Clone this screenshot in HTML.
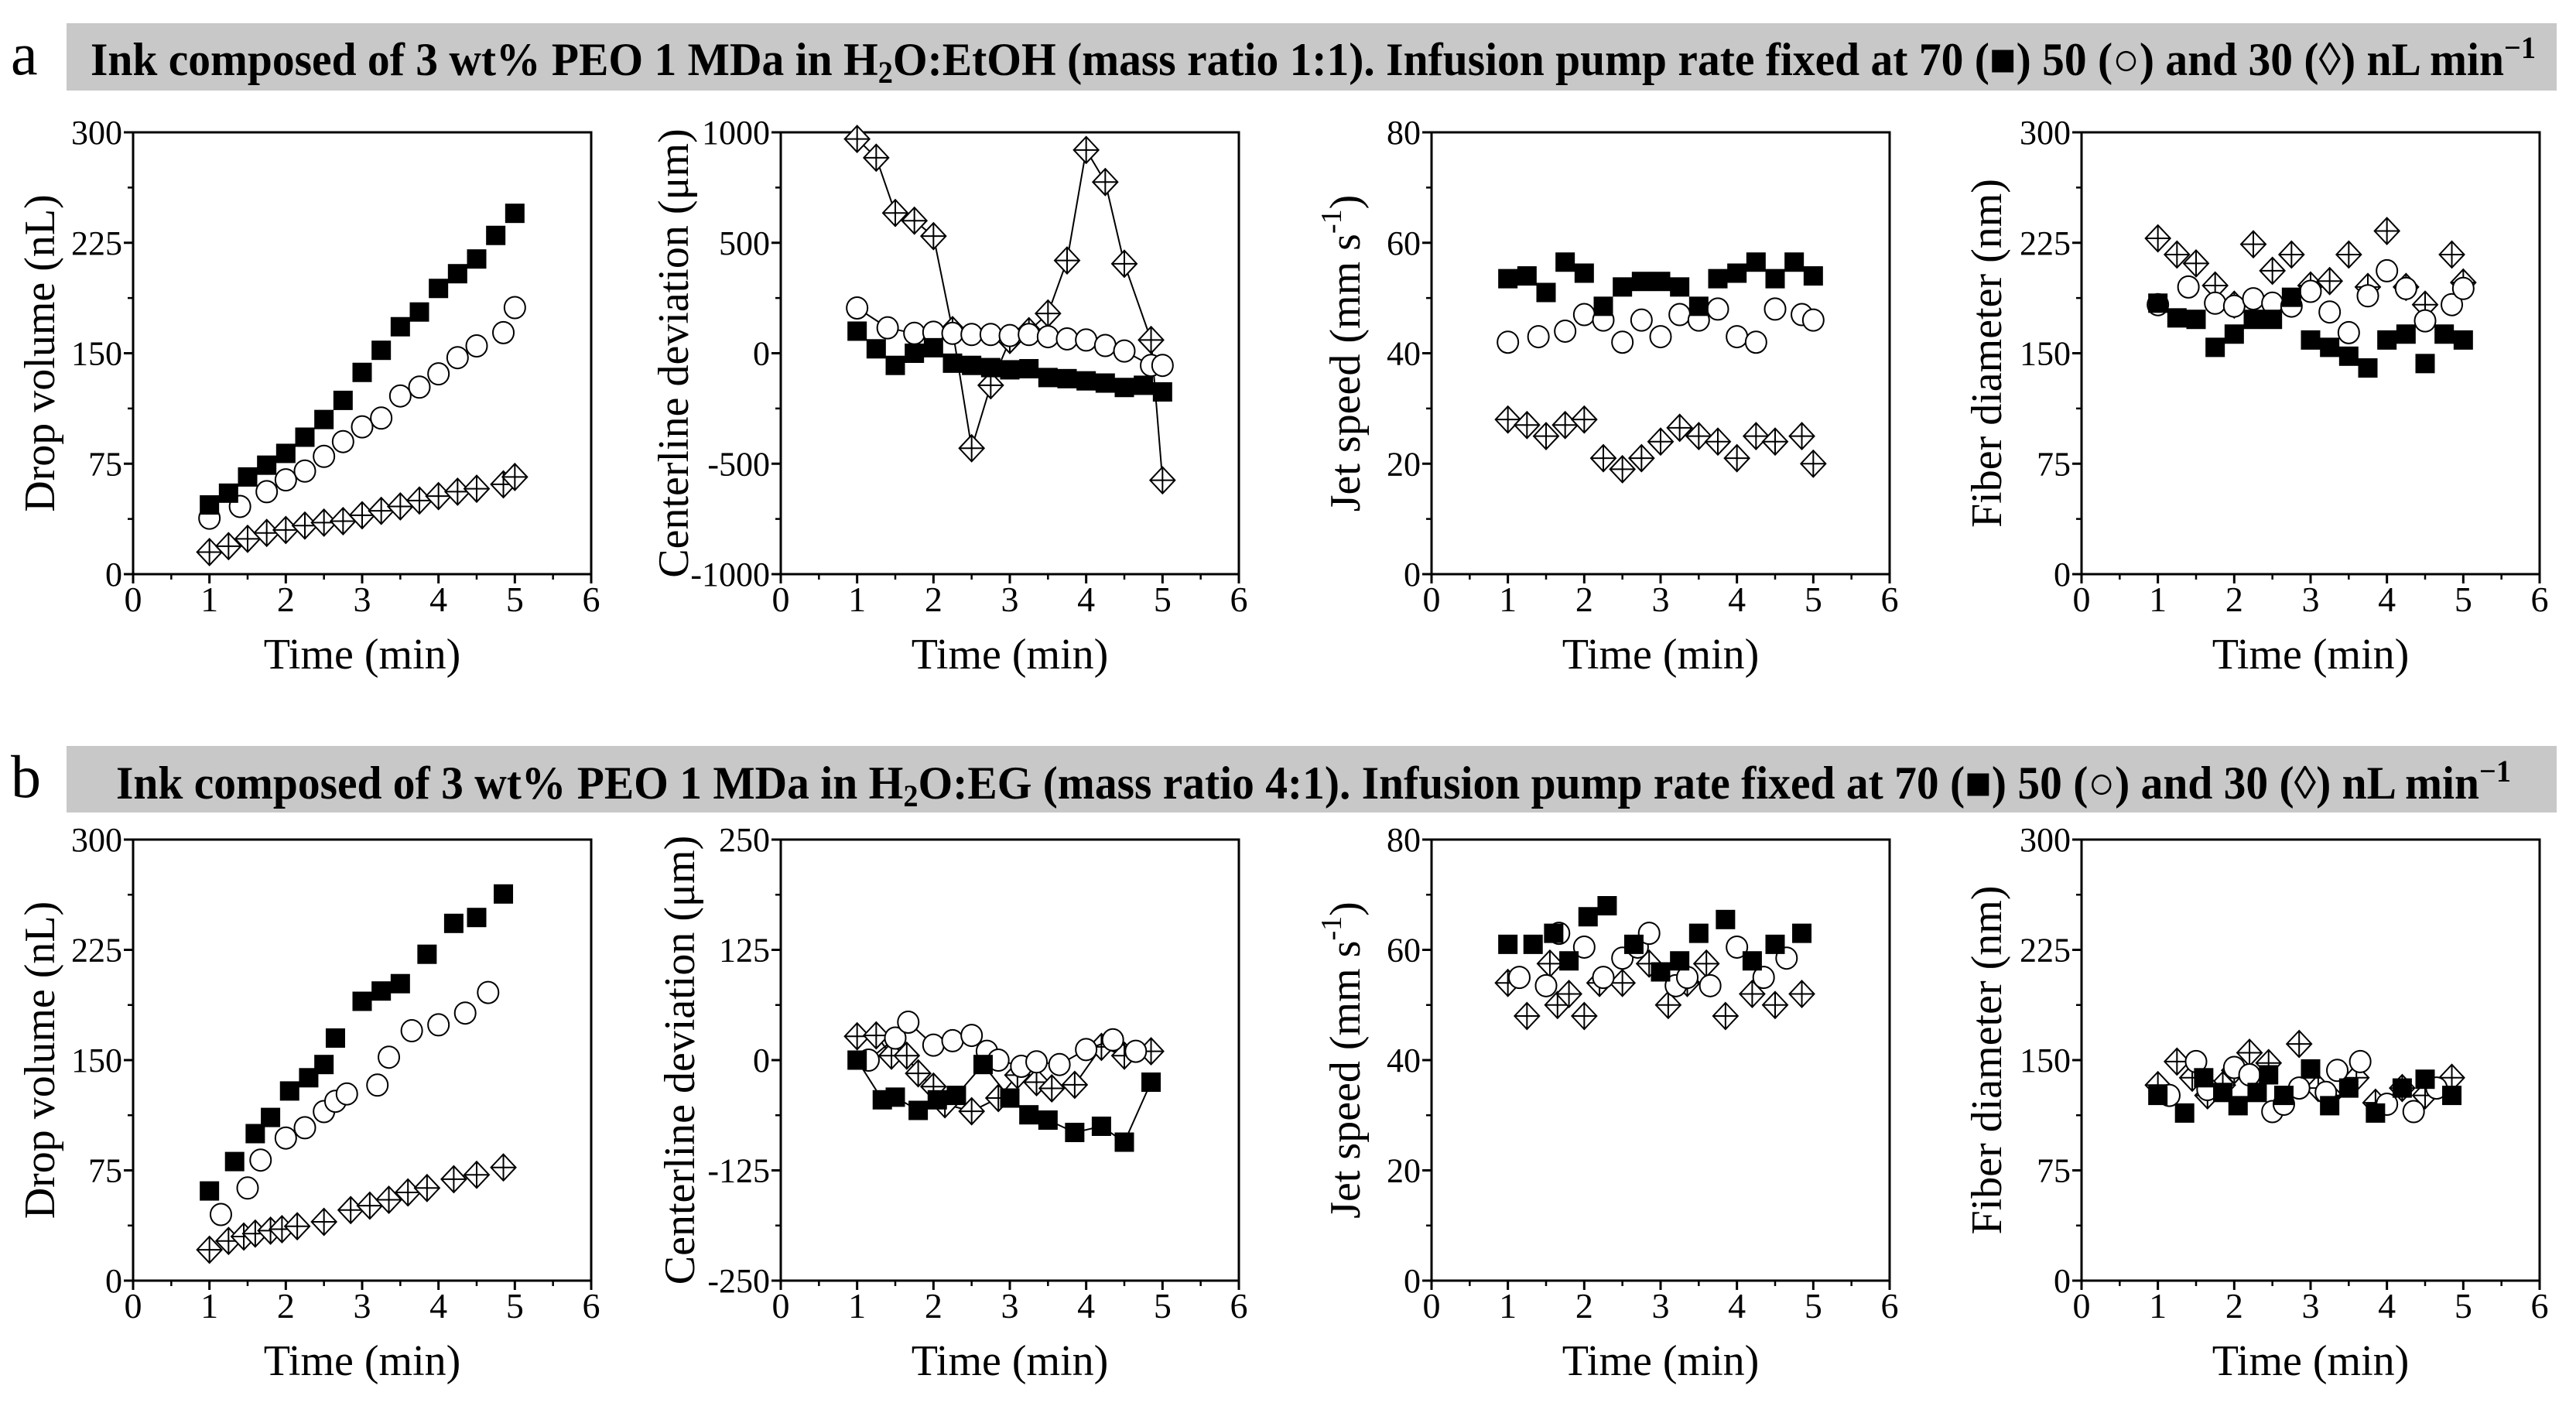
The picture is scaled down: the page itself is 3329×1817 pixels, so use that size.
<!DOCTYPE html>
<html><head><meta charset="utf-8"><style>
html,body{margin:0;padding:0;background:#fff;}
svg, svg text{font-family:"Liberation Serif","DejaVu Serif",serif;}
</style></head><body>
<svg id="fig" width="3329" height="1812" viewBox="0 0 3329 1812" xmlns="http://www.w3.org/2000/svg" font-family="Liberation Serif, serif">
<text x="14" y="96" font-size="78" font-family="Liberation Serif, serif">a</text>
<rect x="86" y="30" width="3218" height="87" fill="#c8c8c8"/>
<text x="117" y="97" font-size="60" font-weight="bold" font-family="Liberation Serif, serif" textLength="3160" lengthAdjust="spacingAndGlyphs">Ink composed of 3 wt% PEO 1 MDa in H<tspan font-size="40" dy="10">2</tspan><tspan dy="-10">O:EtOH (mass ratio 1:1). Infusion pump rate fixed at 70 (■) 50 (○) and 30 (◊) nL min</tspan><tspan font-size="40" dy="-22">−1</tspan></text>
<text x="14" y="1030" font-size="78" font-family="Liberation Serif, serif">b</text>
<rect x="86" y="964" width="3218" height="86" fill="#c8c8c8"/>
<text x="150" y="1032" font-size="60" font-weight="bold" font-family="Liberation Serif, serif" textLength="3095" lengthAdjust="spacingAndGlyphs">Ink composed of 3 wt% PEO 1 MDa in H<tspan font-size="40" dy="10">2</tspan><tspan dy="-10">O:EG (mass ratio 4:1). Infusion pump rate fixed at 70 (■) 50 (○) and 30 (◊) nL min</tspan><tspan font-size="40" dy="-22">−1</tspan></text>
</svg>
<script>
// ---- Row a data ----
const a1SqT=[1,1.25,1.5,1.75,2,2.25,2.5,2.75,3,3.25,3.5,3.75,4,4.25,4.5,4.75,5];
const a1SqV=[47,55,66,74,82,93,105,118,137,152,168,178,194,204,214,230,245];
const a1CiT=[1,1.4,1.75,2,2.25,2.5,2.75,3,3.25,3.5,3.75,4,4.25,4.5,4.85,5];
const a1CiV=[38,46,56,64,70,80,90,100,106,121,127,136,147,155,164,181];
const a1DiT=[1,1.25,1.5,1.75,2,2.25,2.5,2.75,3,3.25,3.5,3.75,4,4.25,4.5,4.85,5];
const a1DiV=[15,19,24,28,30,33,35,36,40,43,46,50,53,56,58,61,66];

const a2SqT=[1,1.25,1.5,1.75,2,2.25,2.5,2.75,3,3.25,3.5,3.75,4,4.25,4.5,4.75,5];
const a2SqV=[100,20,-55,0,25,-45,-55,-65,-75,-70,-110,-115,-125,-135,-155,-145,-175];
const a2CiT=[1,1.4,1.75,2,2.25,2.5,2.75,3,3.25,3.5,3.75,4,4.25,4.5,4.85,5];
const a2CiV=[205,115,90,95,90,85,85,80,85,75,65,60,35,10,-55,-55];
const a2DiT=[1,1.25,1.5,1.75,2,2.25,2.5,2.75,3,3.25,3.5,3.75,4,4.25,4.5,4.85,5];
const a2DiV=[970,885,635,600,530,105,-430,-145,60,100,180,420,920,775,405,60,-575];

const a3SqT=[1,1.25,1.5,1.75,2,2.25,2.5,2.75,3,3.25,3.5,3.75,4,4.25,4.5,4.75,5];
const a3SqV=[53.5,54,51,56.5,54.5,48.5,52,53,53,52,48.5,53.5,54.5,56.5,53.5,56.5,54];
const a3CiT=[1,1.4,1.75,2,2.25,2.5,2.75,3,3.25,3.5,3.75,4,4.25,4.5,4.85,5];
const a3CiV=[42,43,44,47,46,42,46,43,47,46,48,43,42,48,47,46];
const a3DiT=[1,1.25,1.5,1.75,2,2.25,2.5,2.75,3,3.25,3.5,3.75,4,4.25,4.5,4.85,5];
const a3DiV=[28,27,25,27,28,21,19,21,24,26.5,25,24,21,25,24,25,20];

const a4SqT=[1,1.25,1.5,1.75,2,2.25,2.5,2.75,3,3.25,3.5,3.75,4,4.25,4.5,4.75,5];
const a4SqV=[184,174,173,154,163,173,173,188,159,154,148,140,159,163,143,163,159];
const a4CiT=[1,1.4,1.75,2,2.25,2.5,2.75,3,3.25,3.5,3.75,4,4.25,4.5,4.85,5];
const a4CiV=[183,195,184,182,187,184,182,192,178,164,189,206,194,172,183,194];
const a4DiT=[1,1.25,1.5,1.75,2,2.25,2.5,2.75,3,3.25,3.5,3.75,4,4.25,4.5,4.85,5];
const a4DiV=[228,217,211,196,183,224,206,217,196,199,217,195,233,195,183,217,198];

// ---- Row b data ----
const b1SqT=[1,1.33,1.6,1.8,2.05,2.3,2.5,2.65,3,3.25,3.5,3.85,4.2,4.5,4.85];
const b1SqV=[61,81,100,111,129,138,147,165,190,197,202,222,243,247,263];
const b1CiT=[1.15,1.5,1.67,2,2.25,2.5,2.65,2.8,3.2,3.35,3.65,4,4.35,4.65];
const b1CiV=[45,63,82,97,104,115,122,127,133,152,170,174,182,196];
const b1DiT=[1,1.25,1.45,1.6,1.8,1.95,2.15,2.5,2.85,3.1,3.35,3.6,3.85,4.2,4.5,4.85];
const b1DiV=[21,27,30,32,34,35,37,40,48,51,55,60,63,69,72,77];

const b2SqT=[1,1.33,1.5,1.8,2.05,2.3,2.65,3,3.25,3.5,3.85,4.2,4.5,4.85];
const b2SqV=[0,-45,-42,-57,-45,-40,-5,-43,-62,-68,-82,-75,-93,-25];
const b2CiT=[1.15,1.5,1.67,2,2.25,2.5,2.7,2.85,3.15,3.35,3.65,4,4.35,4.65];
const b2CiV=[0,25,43,17,22,28,10,0,-7,-2,-5,12,23,10];
const b2DiT=[1,1.25,1.45,1.65,1.8,2,2.15,2.5,2.85,3.1,3.35,3.55,3.85,4.2,4.5,4.85];
const b2DiV=[27,28,5,5,-15,-30,-50,-58,-43,-17,-25,-32,-28,15,5,10];

const b3SqT=[1,1.33,1.6,1.8,2.05,2.3,2.65,3,3.25,3.5,3.85,4.2,4.5,4.85];
const b3SqV=[61,61,63,58,66,68,61,56,58,63,65.5,58,61,63];
const b3CiT=[1.15,1.5,1.67,2,2.25,2.5,2.7,2.85,3.2,3.35,3.65,4,4.35,4.65];
const b3CiV=[55,53.5,63,60.5,55,58.5,60.5,63,53.5,55,53.5,60.5,55,58.5];
const b3DiT=[1,1.25,1.55,1.65,1.8,2,2.2,2.5,2.85,3.1,3.35,3.6,3.85,4.2,4.5,4.85];
const b3DiV=[54,48,57.5,50,52,48,54,54,57.5,50,54,57.5,48,52,50,52];

const b4SqT=[1,1.35,1.6,1.85,2.05,2.3,2.45,2.65,3,3.25,3.5,3.85,4.2,4.5,4.85];
const b4SqV=[126,114,138,128,119,128,140,126,144,119,131,114,131,137,126];
const b4CiT=[1.15,1.5,1.65,2,2.2,2.5,2.65,2.85,3.2,3.35,3.65,4,4.35,4.65];
const b4CiV=[126,149,130,145,140,115,120,131,128,143,149,120,115,131];
const b4DiT=[1,1.25,1.45,1.65,1.85,2,2.2,2.45,2.85,3.1,3.25,3.6,3.85,4.2,4.5,4.85];
const b4DiV=[133,149,138,126,133,143,155,148,161,131,126,138,121,131,126,138];

const xTicks=[0,1,2,3,4,5,6];
const volTicks=[0,75,150,225,300];
const devATicks=[-1000,-500,0,500,1000];
const devBTicks=[-250,-125,0,125,250];
const speedTicks=[0,20,40,60,80];
const diaTicks=[0,75,150,225,300];

const NS='http://www.w3.org/2000/svg';
const FF='Liberation Serif, serif';
const svg=document.getElementById('fig');
function mk(tag,attrs,parent){const e=document.createElementNS(NS,tag);for(const k in attrs)e.setAttribute(k,attrs[k]);if(tag==='text')e.setAttribute('font-family',FF);(parent||svg).appendChild(e);return e;}

function panel(cfg){
  const g=mk('g',{});
  
  
  const L=cfg.x,R=cfg.x+592,T=cfg.top,B=cfg.bot;
  const ymin=cfg.yt[0],ymax=cfg.yt[cfg.yt.length-1];
  const sx=t=>L+(t-0)/6*(R-L);
  const sy=v=>B-(v-ymin)/(ymax-ymin)*(B-T);
  const frame=mk('rect',{x:L,y:T,width:R-L,height:B-T,fill:'none',stroke:'#000','stroke-width':3},g);
  
  
  xTicks.forEach((t,i)=>{
    mk('line',{x1:sx(t),x2:sx(t),y1:B,y2:B+12,stroke:'#000','stroke-width':3},g);
    if(i<xTicks.length-1) mk('line',{x1:sx(t+0.5),x2:sx(t+0.5),y1:B,y2:B+7,stroke:'#000','stroke-width':2.5},g);
    const tx=mk('text',{x:sx(t),y:B+48,'font-size':46,'text-anchor':'middle'},g);
    tx.textContent=t;
    
    
  });
  const step=cfg.yt[1]-cfg.yt[0];
  cfg.yt.forEach((v,i)=>{
    mk('line',{x1:L-12,x2:L,y1:sy(v),y2:sy(v),stroke:'#000','stroke-width':3},g);
    if(i<cfg.yt.length-1) mk('line',{x1:L-7,x2:L,y1:sy(v+step/2),y2:sy(v+step/2),stroke:'#000','stroke-width':2.5},g);
    const tx=mk('text',{x:L-14,y:sy(v)+15,'font-size':44,'text-anchor':'end'},g);
    tx.textContent=v;
    
    
  });
  const xt=mk('text',{x:(L+R)/2,y:B+122,'font-size':56,'text-anchor':'middle'},g);
  xt.textContent='Time (min)';
  
  
  const cy=(T+B)/2, cx=L-cfg.yOff;
  const yt=mk('text',{x:cx,y:cy,'font-size':56,'text-anchor':'middle',transform:`rotate(-90 ${cx} ${cy})`,'dominant-baseline':'central'},g);
  yt.innerHTML=cfg.ytitle;
  
  
  const series=[['diamond',cfg.di],['circle',cfg.ci],['square',cfg.sq]];
  series.forEach(([shape,[ts,vs]])=>{
    const sg=mk('g',{},g);
    
    
    if(cfg.lines){
      const pts=ts.map((t,i)=>sx(t)+','+sy(vs[i])).join(' ');
      const pl=mk('polyline',{points:pts,fill:'none',stroke:'#000','stroke-width':2},sg);
      
      
    }
    ts.forEach((t,i)=>{
      const X=sx(t),Y=sy(vs[i]);let m;
      if(shape==='square') m=mk('rect',{x:X-12.5,y:Y-12.5,width:25,height:25,fill:'#000'},sg);
      else if(shape==='circle') m=mk('ellipse',{cx:X,cy:Y,rx:13.5,ry:14,fill:'#fff',stroke:'#000','stroke-width':2},sg);
      else{
        m=mk('g',{},sg);
        mk('polygon',{points:`${X},${Y-17} ${X+16},${Y} ${X},${Y+17} ${X-16},${Y}`,fill:'#fff',stroke:'#000','stroke-width':2},m);
        mk('path',{d:`M${X} ${Y-17}V${Y+17}M${X-16} ${Y}H${X+16}`,stroke:'#000','stroke-width':2},m);
      }
      
      
    });
  });
}
const xs=[172,1009,1850,2690];
const rows=[{top:171,bot:742},{top:1085,bot:1655}];
const volT='Drop volume (nL)',devT='Centerline deviation (μm)',spT='Jet speed (mm s<tspan dy="-18" font-size="38">-1</tspan><tspan dy="18">)</tspan>',diT='Fiber diameter (nm)';
panel({name:'drop-volume-a',x:xs[0],...rows[0],yt:volTicks,ytitle:volT,yOff:120,sq:[a1SqT,a1SqV],ci:[a1CiT,a1CiV],di:[a1DiT,a1DiV]});
panel({name:'centerline-a',x:xs[1],...rows[0],yt:devATicks,ytitle:devT,yOff:138,lines:true,sq:[a2SqT,a2SqV],ci:[a2CiT,a2CiV],di:[a2DiT,a2DiV]});
panel({name:'jet-speed-a',x:xs[2],...rows[0],yt:speedTicks,ytitle:spT,yOff:111,sq:[a3SqT,a3SqV],ci:[a3CiT,a3CiV],di:[a3DiT,a3DiV]});
panel({name:'fiber-diameter-a',x:xs[3],...rows[0],yt:diaTicks,ytitle:diT,yOff:122,sq:[a4SqT,a4SqV],ci:[a4CiT,a4CiV],di:[a4DiT,a4DiV]});
panel({name:'drop-volume-b',x:xs[0],...rows[1],yt:volTicks,ytitle:volT,yOff:120,sq:[b1SqT,b1SqV],ci:[b1CiT,b1CiV],di:[b1DiT,b1DiV]});
panel({name:'centerline-b',x:xs[1],...rows[1],yt:devBTicks,ytitle:devT,yOff:130,lines:true,sq:[b2SqT,b2SqV],ci:[b2CiT,b2CiV],di:[b2DiT,b2DiV]});
panel({name:'jet-speed-b',x:xs[2],...rows[1],yt:speedTicks,ytitle:spT,yOff:111,sq:[b3SqT,b3SqV],ci:[b3CiT,b3CiV],di:[b3DiT,b3DiV]});
panel({name:'fiber-diameter-b',x:xs[3],...rows[1],yt:diaTicks,ytitle:diT,yOff:122,sq:[b4SqT,b4SqV],ci:[b4CiT,b4CiV],di:[b4DiT,b4DiV]});
</script>
</body></html>
